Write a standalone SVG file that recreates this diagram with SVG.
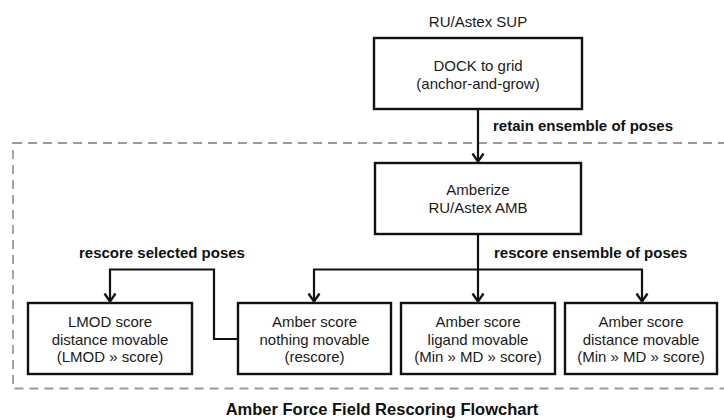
<svg xmlns="http://www.w3.org/2000/svg" width="724" height="420" viewBox="0 0 724 420">
<style>
.box{fill:#fff;stroke:#111;stroke-width:2.4}
.t{font-family:"Liberation Sans",Arial,sans-serif;font-size:15px;fill:#1a1a1a;text-anchor:middle}
.lb{font-family:"Liberation Sans",Arial,sans-serif;font-size:15px;font-weight:bold;fill:#111}
.c{fill:none;stroke:#111;stroke-width:2.2}
.dash{fill:none;stroke:#9a9a9a;stroke-width:1.8;stroke-dasharray:9 6}
</style>
<defs>
<marker id="arr" markerUnits="userSpaceOnUse" viewBox="0 -8 12 16" markerWidth="12" markerHeight="16" refX="10" refY="0" orient="auto" overflow="visible">
<path d="M1.5,-5.5 L9.5,0 L1.5,5.5" fill="none" stroke="#111" stroke-width="2.3"/>
</marker>
</defs>
<rect width="724" height="420" fill="#fff"/>
<rect id="frame" class="dash" x="13" y="143" width="730" height="245.5"/>
<text class="t" x="478" y="27">RU/Astex SUP</text>
<g id="connectors">
<path class="c" d="M478,109 V162" marker-end="url(#arr)"/>
<path class="c" d="M478,234 V302" marker-end="url(#arr)"/>
<path class="c" d="M313,269.5 H643"/>
<path class="c" d="M314,269.5 V302" marker-end="url(#arr)"/>
<path class="c" d="M642,269.5 V302" marker-end="url(#arr)"/>
<path class="c" d="M238,339 H214 V269.5 H110 V302" marker-end="url(#arr)"/>
<text class="lb" x="493" y="131">retain ensemble of poses</text>
<text class="lb" x="494" y="258">rescore ensemble of poses</text>
<text class="lb" x="79" y="258">rescore selected poses</text>
</g>
<g id="dock">
<rect class="box" x="374" y="38" width="208" height="71"/>
<text class="t" x="478" y="71">DOCK to grid</text>
<text class="t" x="478" y="88.5">(anchor-and-grow)</text>
</g>
<g id="amberize">
<rect class="box" x="375" y="163" width="206" height="71"/>
<text class="t" x="478" y="195">Amberize</text>
<text class="t" x="478" y="212.5">RU/Astex AMB</text>
</g>
<g id="lmod">
<rect class="box" x="28" y="303" width="164" height="71"/>
<text class="t" x="110" y="327">LMOD score</text>
<text class="t" x="110" y="344.5">distance  movable</text>
<text class="t" x="110" y="362">(LMOD » score)</text>
</g>
<g id="nothing">
<rect class="box" x="238" y="303" width="153" height="71"/>
<text class="t" x="314.5" y="327">Amber score</text>
<text class="t" x="314.5" y="344.5">nothing movable</text>
<text class="t" x="314.5" y="362">(rescore)</text>
</g>
<g id="ligand">
<rect class="box" x="401" y="303" width="154" height="71"/>
<text class="t" x="478" y="327">Amber score</text>
<text class="t" x="478" y="344.5">ligand movable</text>
<text class="t" x="478" y="362">(Min » MD » score)</text>
</g>
<g id="distance">
<rect class="box" x="565" y="303" width="152" height="71"/>
<text class="t" x="641" y="327">Amber score</text>
<text class="t" x="641" y="344.5">distance  movable</text>
<text class="t" x="641" y="362">(Min » MD » score)</text>
</g>
<text id="title" x="382" y="415" font-family="'Liberation Sans',Arial,sans-serif" font-size="16.5" font-weight="bold" fill="#111" text-anchor="middle">Amber Force Field Rescoring Flowchart</text>
</svg>
